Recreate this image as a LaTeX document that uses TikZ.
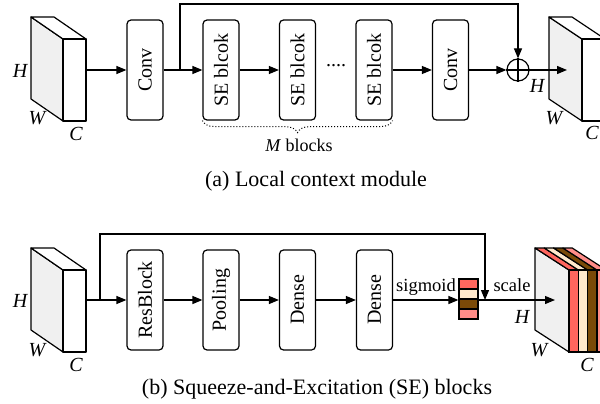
\documentclass[tikz,border=0pt]{standalone}
\usepackage{fontspec}
\setmainfont{Liberation Serif}
\usetikzlibrary{arrows.meta,decorations.pathreplacing}
\definecolor{facegray}{RGB}{240,240,240}
\definecolor{chred}{RGB}{255,102,94}
\definecolor{chcream}{RGB}{255,233,204}
\definecolor{chbrown}{RGB}{122,74,8}
\definecolor{chpink}{RGB}{255,140,136}
\begin{document}
\begin{tikzpicture}[x=1pt,y=-1pt,line width=1.2pt,
  blk/.style={draw,rounded corners=4pt,minimum width=36pt,minimum height=100pt,inner sep=0pt,
    font=\fontsize{20}{24}\selectfont},
  arr/.style={-{Triangle[length=10pt,width=8pt]}},
  dimlbl/.style={font=\fontsize{20}{24}\selectfont\itshape,inner sep=0pt},
  edgelbl/.style={font=\fontsize{18.5}{22}\selectfont,inner sep=0pt,anchor=base},
  caption/.style={font=\fontsize{22}{26}\selectfont,inner sep=0pt},
  side/.style={draw,fill=facegray,line join=round},
  plain/.style={draw,fill=white,line join=round}]
\useasboundingbox (0,0) rectangle (600,404);
\clip (0,0) rectangle (600,404);

% ---------- (a) local context module ----------
% input tensor
\draw[side]  (31,17) -- (63,39) -- (63,121) -- (31,99) -- cycle;
\draw[plain] (31,17) -- (54,17) -- (86,39) -- (63,39) -- cycle;
\draw[plain] (63,39) rectangle (86,121);
\node[dimlbl] (hA) at (20,71) {H};
\node[dimlbl] (wA) at (37,118) {W};
\node[dimlbl] (cA) at (76,134) {C};
\coordinate (inA) at (86,70);

\node[blk] (conv1) at (145,70) {\rotatebox{90}{Conv}};
\node[blk] (se1) at (221,70) {\rotatebox{90}{SE blcok}};
\node[blk] (se2) at (297.5,70) {\rotatebox{90}{SE blcok}};
\node[font=\fontsize{20}{24}\selectfont,inner sep=0pt] (dots) at (336,66) {....};
\node[blk] (se3) at (374,70) {\rotatebox{90}{SE blcok}};
\node[blk] (conv2) at (450.5,70) {\rotatebox{90}{Conv}};
\node[draw,circle,minimum size=22pt,inner sep=0pt] (add) at (518,70) {};
\draw (add.north) -- (add.south) (add.west) -- (add.east);

\coordinate (tapA) at (180,70);
\draw[arr] (inA) -- (conv1.west);
\draw[arr] (conv1.east) -- (se1.west);
\draw[arr] (se1.east) -- (se2.west);
\draw[arr] (se3.east) -- (conv2.west);
\draw[arr] (conv2.east) -- (add.west);
\draw[arr] (tapA) -- ++(0,-66) -| (add.north);

% output tensor
\draw[side]  (549,17) -- (582,39) -- (582,121) -- (549,99) -- cycle;
\draw[plain] (549,17) -- (572,17) -- (605,39) -- (582,39) -- cycle;
\draw[plain] (582,39) rectangle (605,121);
\coordinate (outA) at (567,70);
\draw[arr] (add.east) -- (outA);
\node[dimlbl] (hA2) at (537,86) {H};
\node[dimlbl] (wA2) at (554,118) {W};
\node[dimlbl] (cA2) at (592,133) {C};

% brace under the SE blocks
\draw[dotted,line width=1pt,decorate,decoration={brace,amplitude=12pt,mirror}]
  (se1.south west) -- (se3.south east);
\node[font=\fontsize{18}{22}\selectfont,inner sep=0pt] (mlab) at (299,145) {\textit{M} blocks};

\node[caption] (capA) at (316,181) {(a) Local context module};

% ---------- (b) squeeze-and-excitation block ----------
\draw[side]  (31,248) -- (63,270) -- (63,352) -- (31,330) -- cycle;
\draw[plain] (31,248) -- (54,248) -- (86,270) -- (63,270) -- cycle;
\draw[plain] (63,270) rectangle (86,352);
\node[dimlbl] (hB) at (20,301) {H};
\node[dimlbl] (wB) at (37,350) {W};
\node[dimlbl] (cB) at (76,365) {C};
\coordinate (inB) at (86,300);

\node[blk] (res) at (145,300) {\rotatebox{90}{ResBlock}};
\node[blk] (pool) at (221,300) {\rotatebox{90}{Pooling}};
\node[blk] (dense1) at (297.5,300) {\rotatebox{90}{Dense}};
\node[blk] (dense2) at (374.5,300) {\rotatebox{90}{Dense}};

% excitation vector
\node[minimum width=19pt,minimum height=40pt,inner sep=0pt] (vec) at (468.5,299) {};
\draw[fill=chred]   (459,279) rectangle (478,289);
\draw[fill=chcream] (459,289) rectangle (478,299);
\draw[fill=chbrown] (459,299) rectangle (478,309);
\draw[fill=chpink]  (459,309) rectangle (478,319);

\coordinate (tapB) at (100,300);
\coordinate (mulB) at (485,300);
\coordinate (outB) at (555,300);
\draw[arr] (inB) -- (res.west);
\draw[arr] (res.east) -- (pool.west);
\draw[arr] (pool.east) -- (dense1.west);
\draw[arr] (dense1.east) -- (dense2.west);
\draw[arr] (dense2.east) -- (vec.west |- dense2.east);
\draw[arr] (tapB) -- ++(0,-66) -| (mulB);
\node[edgelbl] (sig) at (426,291) {sigmoid};
\node[edgelbl] (scl) at (512,291) {scale};

% output tensor with recalibrated channels
\draw[side] (535,248) -- (569,270) -- (569,352) -- (535,330) -- cycle;
\foreach \c [count=\i from 0] in {chred,chcream,chbrown,chpink}{
  \draw[fill=\c,line join=round]
    (535+9.3*\i,248) -- (535+9.3*\i+9.3,248) -- (569+9.3*\i+9.3,270) -- (569+9.3*\i,270) -- cycle;
  \draw[fill=\c] (569+9.3*\i,270) rectangle (569+9.3*\i+9.3,352);
}
\draw[arr] (vec.east |- mulB) -- (outB);
\node[dimlbl] (hB2) at (522,317) {H};
\node[dimlbl] (wB2) at (539,350) {W};
\node[dimlbl] (cB2) at (587,365) {C};

\node[caption] (capB) at (317,389) {(b) Squeeze-and-Excitation (SE) blocks};
\end{tikzpicture}
\end{document}
